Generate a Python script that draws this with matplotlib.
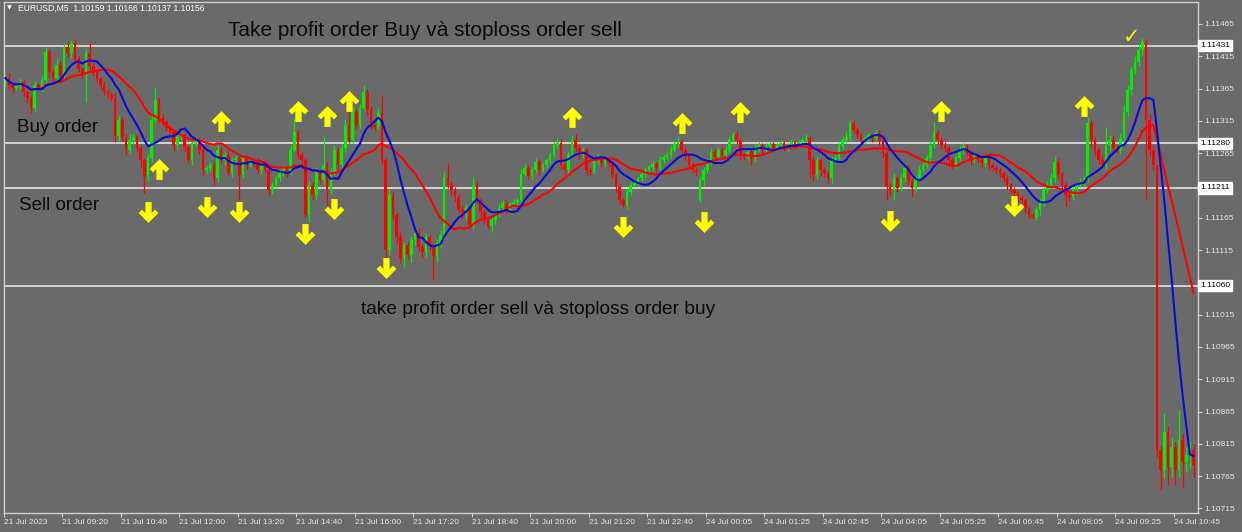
import matplotlib.pyplot as plt
import matplotlib.transforms as mtransforms
from matplotlib.path import Path
import numpy as np
import pandas as pd

plt.rcParams['font.family'] = ['Liberation Sans', 'DejaVu Sans']

# EURUSD M5 closes, in 0.00001 above 1.10000
closes = [
    1381, 1370, 1366, 1369, 1375, 1360, 1350, 1335, 1370, 1366, 1378, 1421, 1390, 1381, 1401, 1386,
    1430, 1420, 1436, 1410, 1395, 1388, 1420, 1400, 1390, 1380, 1370, 1360, 1355, 1350, 1292, 1316,
    1290, 1270, 1285, 1290, 1273, 1254, 1228, 1257, 1316, 1347, 1319, 1313, 1304, 1298, 1277, 1290,
    1293, 1274, 1254, 1281, 1285, 1270, 1239, 1242, 1247, 1226, 1270, 1254, 1262, 1234, 1254, 1257,
    1231, 1257, 1247, 1254, 1251, 1239, 1247, 1239, 1208, 1216, 1226, 1236, 1242, 1236, 1270, 1298,
    1262, 1254, 1169, 1216, 1200, 1236, 1223, 1247, 1208, 1236, 1270, 1247, 1273, 1308, 1285, 1329,
    1308, 1335, 1360, 1332, 1308, 1305, 1327, 1254, 1115, 1200, 1169, 1135, 1103, 1123, 1107, 1130,
    1141, 1120, 1112, 1135, 1123, 1106, 1126, 1138, 1228, 1216, 1208, 1197, 1177, 1169, 1181, 1154,
    1216, 1192, 1174, 1161, 1152, 1161, 1171, 1180, 1188, 1177, 1186, 1189, 1192, 1233, 1242, 1230,
    1239, 1251, 1239, 1247, 1254, 1262, 1277, 1281, 1247, 1239, 1262, 1285, 1273, 1262, 1270, 1239,
    1236, 1254, 1257, 1249, 1254, 1249, 1231, 1213, 1192, 1185, 1205, 1216, 1219, 1226, 1233, 1239,
    1243, 1248, 1242, 1254, 1259, 1262, 1270, 1279, 1282, 1270, 1262, 1247, 1239, 1236, 1223, 1239,
    1254, 1267, 1259, 1270, 1262, 1270, 1285, 1293, 1285, 1262, 1259, 1267, 1257, 1273, 1277, 1270,
    1276, 1279, 1273, 1277, 1281, 1273, 1277, 1282, 1277, 1282, 1285, 1288, 1254, 1231, 1254, 1239,
    1234, 1226, 1254, 1257, 1276, 1285, 1290, 1311, 1301, 1293, 1285, 1288, 1293, 1288, 1296, 1285,
    1265, 1213, 1208, 1226, 1211, 1226, 1242, 1223, 1211, 1226, 1239, 1247, 1257, 1277, 1296, 1285,
    1277, 1273, 1254, 1247, 1257, 1270, 1276, 1265, 1254, 1262, 1254, 1249, 1257, 1247, 1242, 1239,
    1234, 1226, 1216, 1208, 1203, 1195, 1192, 1180, 1169, 1166, 1177, 1189, 1208, 1216, 1226, 1251,
    1231, 1216, 1200, 1197, 1208, 1216, 1220, 1226, 1311, 1285, 1270, 1254, 1247, 1277, 1285, 1273,
    1270, 1288, 1329, 1363, 1394, 1406, 1425, 1437, 1316, 1270, 1247, 805, 774, 833, 779, 810,
    774, 821, 787, 798, 805, 782,
]
wick_up = [
    5, 8, 4, 3, 6, 4, 3, 5, 6, 4, 7, 8, 5, 4, 10, 6,
    5, 8, 4, 6, 5, 3, 6, 16, 5, 4, 3, 6, 4, 5, 8, 6,
    5, 4, 10, 6, 5, 4, 3, 6, 8, 19, 5, 6, 4, 3, 5, 6,
    5, 4, 3, 6, 5, 4, 6, 3, 5, 4, 8, 4, 5, 6, 3, 5,
    4, 6, 5, 4, 3, 6, 5, 4, 3, 5, 4, 6, 5, 3, 8, 23,
    5, 4, 3, 6, 5, 8, 4, 43, 5, 6, 8, 4, 6, 10, 24, 8,
    5, 6, 10, 4, 6, 3, 8, 28, 4, 10, 6, 5, 8, 4, 6, 5,
    6, 8, 5, 6, 4, 3, 6, 8, 10, 22, 6, 5, 4, 6, 5, 4,
    12, 6, 5, 4, 3, 5, 4, 6, 5, 4, 3, 5, 4, 8, 6, 5,
    4, 6, 5, 4, 3, 5, 6, 8, 6, 4, 5, 8, 10, 5, 4, 5,
    4, 5, 6, 4, 5, 3, 4, 5, 4, 3, 6, 4, 5, 4, 3, 5,
    4, 5, 3, 6, 4, 5, 6, 5, 8, 4, 5, 3, 4, 5, 6, 5,
    4, 6, 5, 4, 5, 6, 5, 4, 8, 4, 3, 5, 4, 6, 5, 4,
    4, 5, 3, 4, 5, 3, 4, 5, 3, 4, 5, 6, 4, 5, 6, 4,
    5, 4, 6, 5, 4, 6, 8, 5, 6, 4, 3, 5, 4, 3, 5, 4,
    6, 4, 5, 8, 4, 6, 8, 5, 4, 5, 6, 4, 5, 6, 17, 5,
    4, 5, 3, 4, 5, 6, 4, 3, 5, 4, 3, 5, 4, 3, 5, 4,
    3, 4, 5, 3, 4, 3, 5, 4, 3, 4, 5, 6, 5, 6, 8, 10,
    6, 5, 4, 3, 5, 4, 6, 5, 8, 6, 5, 4, 6, 28, 8, 6,
    5, 8, 10, 8, 6, 10, 8, 6, 5, 10, 6, 0, 8, 30, 10, 15,
    8, 46, 10, 12, 15, 10,
]
wick_dn = [
    6, 5, 8, 4, 5, 6, 8, 10, 5, 4, 6, 5, 8, 6, 5, 4,
    5, 6, 8, 5, 4, 6, 44, 6, 5, 4, 8, 5, 6, 4, 10, 8,
    6, 8, 5, 6, 4, 10, 25, 6, 5, 4, 8, 6, 5, 4, 8, 6,
    5, 6, 4, 8, 5, 6, 8, 5, 4, 10, 6, 5, 8, 4, 6, 5,
    39, 5, 6, 4, 8, 5, 6, 4, 8, 6, 5, 4, 6, 8, 5, 4,
    6, 8, 3, 10, 8, 6, 5, 6, 23, 6, 5, 8, 5, 6, 4, 5,
    6, 5, 4, 8, 6, 5, 4, 6, 12, 8, 6, 10, 8, 15, 6, 10,
    8, 6, 10, 8, 6, 37, 10, 8, 6, 5, 8, 6, 5, 6, 8, 6,
    6, 5, 8, 6, 5, 9, 6, 5, 4, 6, 5, 4, 5, 6, 4, 5,
    6, 5, 8, 4, 5, 6, 4, 5, 6, 8, 6, 4, 5, 6, 5, 8,
    5, 4, 6, 5, 4, 6, 5, 8, 6, 3, 6, 5, 4, 5, 4, 5,
    4, 5, 6, 4, 5, 4, 5, 4, 5, 6, 8, 6, 5, 6, 3, 8,
    5, 6, 4, 5, 6, 4, 5, 4, 6, 8, 5, 4, 10, 5, 4, 6,
    5, 4, 6, 5, 4, 5, 4, 3, 5, 4, 3, 4, 26, 8, 6, 10,
    6, 8, 7, 5, 4, 5, 4, 6, 5, 4, 6, 5, 4, 6, 5, 8,
    6, 21, 8, 16, 6, 5, 4, 8, 14, 6, 5, 4, 5, 6, 4, 6,
    5, 6, 8, 6, 5, 4, 6, 5, 8, 5, 4, 6, 5, 6, 4, 5,
    6, 5, 8, 6, 5, 6, 5, 8, 6, 3, 5, 8, 6, 5, 6, 8,
    6, 8, 18, 6, 5, 6, 4, 8, 6, 10, 8, 6, 5, 6, 8, 6,
    5, 6, 5, 6, 8, 6, 6, 8, 124, 10, 8, 10, 31, 12, 28, 15,
    23, 10, 41, 15, 20, 18,
]
# bars whose open differs from the previous close
open_gaps = {0: 1375, 190: 1192}

# signal arrows: bar index and price (0.00001 above 1.10000)
up_idx = [42, 59, 80, 88, 94, 155, 185, 201, 256, 295]
up_price = [1240, 1315, 1330, 1322, 1346, 1321, 1312, 1329, 1330, 1338]
down_idx = [39, 55, 64, 82, 90, 104, 169, 191, 242, 276]
down_price = [1174, 1182, 1174, 1140, 1178, 1087, 1151, 1158, 1160, 1183]
check_idx, check_price = 308, 1445

levels = [1.11431, 1.11280, 1.11211, 1.11060]
price_ticks = [1.11465, 1.11415, 1.11365, 1.11315, 1.11265, 1.11165, 1.11115,
               1.11015, 1.10965, 1.10915, 1.10865, 1.10815, 1.10765, 1.10715]
time_labels = ['21 Jul 2023', '21 Jul 09:20', '21 Jul 10:40', '21 Jul 12:00', '21 Jul 13:20',
               '21 Jul 14:40', '21 Jul 16:00', '21 Jul 17:20', '21 Jul 18:40', '21 Jul 20:00',
               '21 Jul 21:20', '21 Jul 22:40', '24 Jul 00:05', '24 Jul 01:25', '24 Jul 02:45',
               '24 Jul 04:05', '24 Jul 05:25', '24 Jul 06:45', '24 Jul 08:05', '24 Jul 09:25',
               '24 Jul 10:45']

BG = '#6a6a6a'
FG = '#e8e8e8'
UP = '#00f000'
DN = '#ff0000'


def px(v):
    return 1.1 + np.asarray(v, dtype=float) / 1e5


c = np.array(closes, dtype=float)
o = np.concatenate([[c[0]], c[:-1]])
for k, v in open_gaps.items():
    o[k] = v
hi = np.maximum(o, c) + np.array(wick_up)
lo = np.minimum(o, c) - np.array(wick_dn)
idx = np.arange(len(c))
bull = c >= o

fig = plt.figure(figsize=(12.42, 5.32), dpi=100, facecolor=BG)
ax = fig.add_axes([4 / 1242, 19 / 532, 1194 / 1242, 511 / 532])
ax.set_facecolor(BG)

for lv in levels:
    ax.axhline(lv, color='#dadada', lw=1.3, zorder=1)

cols = np.where(bull, UP, DN)
ax.vlines(idx, px(lo), px(hi), colors=cols, lw=0.9, zorder=2)
body = np.where(np.abs(c - o) < 1, 1, c - o)
ax.bar(idx, body / 1e5, bottom=px(o), width=0.72, color=cols, linewidth=0, zorder=2)

close_s = pd.Series(px(c))
ax.plot(idx, close_s.rolling(20, min_periods=1).mean(), color='#ff0000', lw=1.5, zorder=3)
ax.plot(idx, close_s.rolling(10, min_periods=1).mean(), color='#0a0ad2', lw=1.5, zorder=3)

# thick chevron-headed arrow
up_verts = [(0, 1), (0.95, 0.05), (0.62, -0.28), (0.3, 0.05), (0.3, -1), (-0.3, -1),
            (-0.3, 0.05), (-0.62, -0.28), (-0.95, 0.05), (0, 1)]
up_mark = Path(up_verts)
down_mark = Path([(x, -y) for x, y in up_verts])
ax.plot(up_idx, px(up_price), ls='none', marker=up_mark, ms=15, color='#ffff00', mew=0, zorder=4)
ax.plot(down_idx, px(down_price), ls='none', marker=down_mark, ms=15, color='#ffff00', mew=0, zorder=4)
ax.text(check_idx, px(check_price), '\u2713', color='#f2f200', fontsize=15, ha='center',
        va='center', family='DejaVu Sans', zorder=4)

ax.set_xlim(-0.4, 326.2)
ax.set_ylim(1.107079, 1.114989)

ax.set_xticks([16 * k - 0.4 for k in range(len(time_labels))])
ax.set_xticklabels(time_labels, ha='left', fontsize=6, color=FG)
ax.yaxis.tick_right()
ax.set_yticks(price_ticks)
ax.set_yticklabels(['%.5f' % p for p in price_ticks], fontsize=6, color=FG)
ax.tick_params(axis='both', colors='#d0d0d0', length=3, width=0.8, pad=1.5, labelcolor=FG)
for s in ax.spines.values():
    s.set_color('#d0d0d0')
    s.set_linewidth(1)

trans = mtransforms.blended_transform_factory(ax.transAxes, ax.transData)
for lv in levels:
    ax.text(1.0017, lv, '%.5f' % lv, transform=trans, fontsize=6, color='black', va='center',
            ha='left', bbox=dict(facecolor='white', edgecolor='white', pad=1.5), clip_on=False)

W, H = 1242, 532
fig.text(7 / W, 1 - 8 / H, '\u25bc', fontsize=4.5, color='white', va='center', family='DejaVu Sans')
fig.text(18 / W, 1 - 8 / H, 'EURUSD,M5  1.10159 1.10166 1.10137 1.10156', fontsize=6.2,
         color='white', va='center')

fig.text(228 / W, 1 - 31 / H, 'Take profit order Buy và stoploss order sell', fontsize=15,
         color='#0a0a0a', va='center')
fig.text(17 / W, 1 - 127 / H, 'Buy order', fontsize=13.5, color='#0a0a0a', va='center')
fig.text(19 / W, 1 - 205 / H, 'Sell order', fontsize=13.5, color='#0a0a0a', va='center')
fig.text(361 / W, 1 - 310 / H, 'take profit order sell và stoploss order buy', fontsize=13.8,
         color='#0a0a0a', va='center')

fig.savefig('out.png', dpi=100, facecolor=BG)
